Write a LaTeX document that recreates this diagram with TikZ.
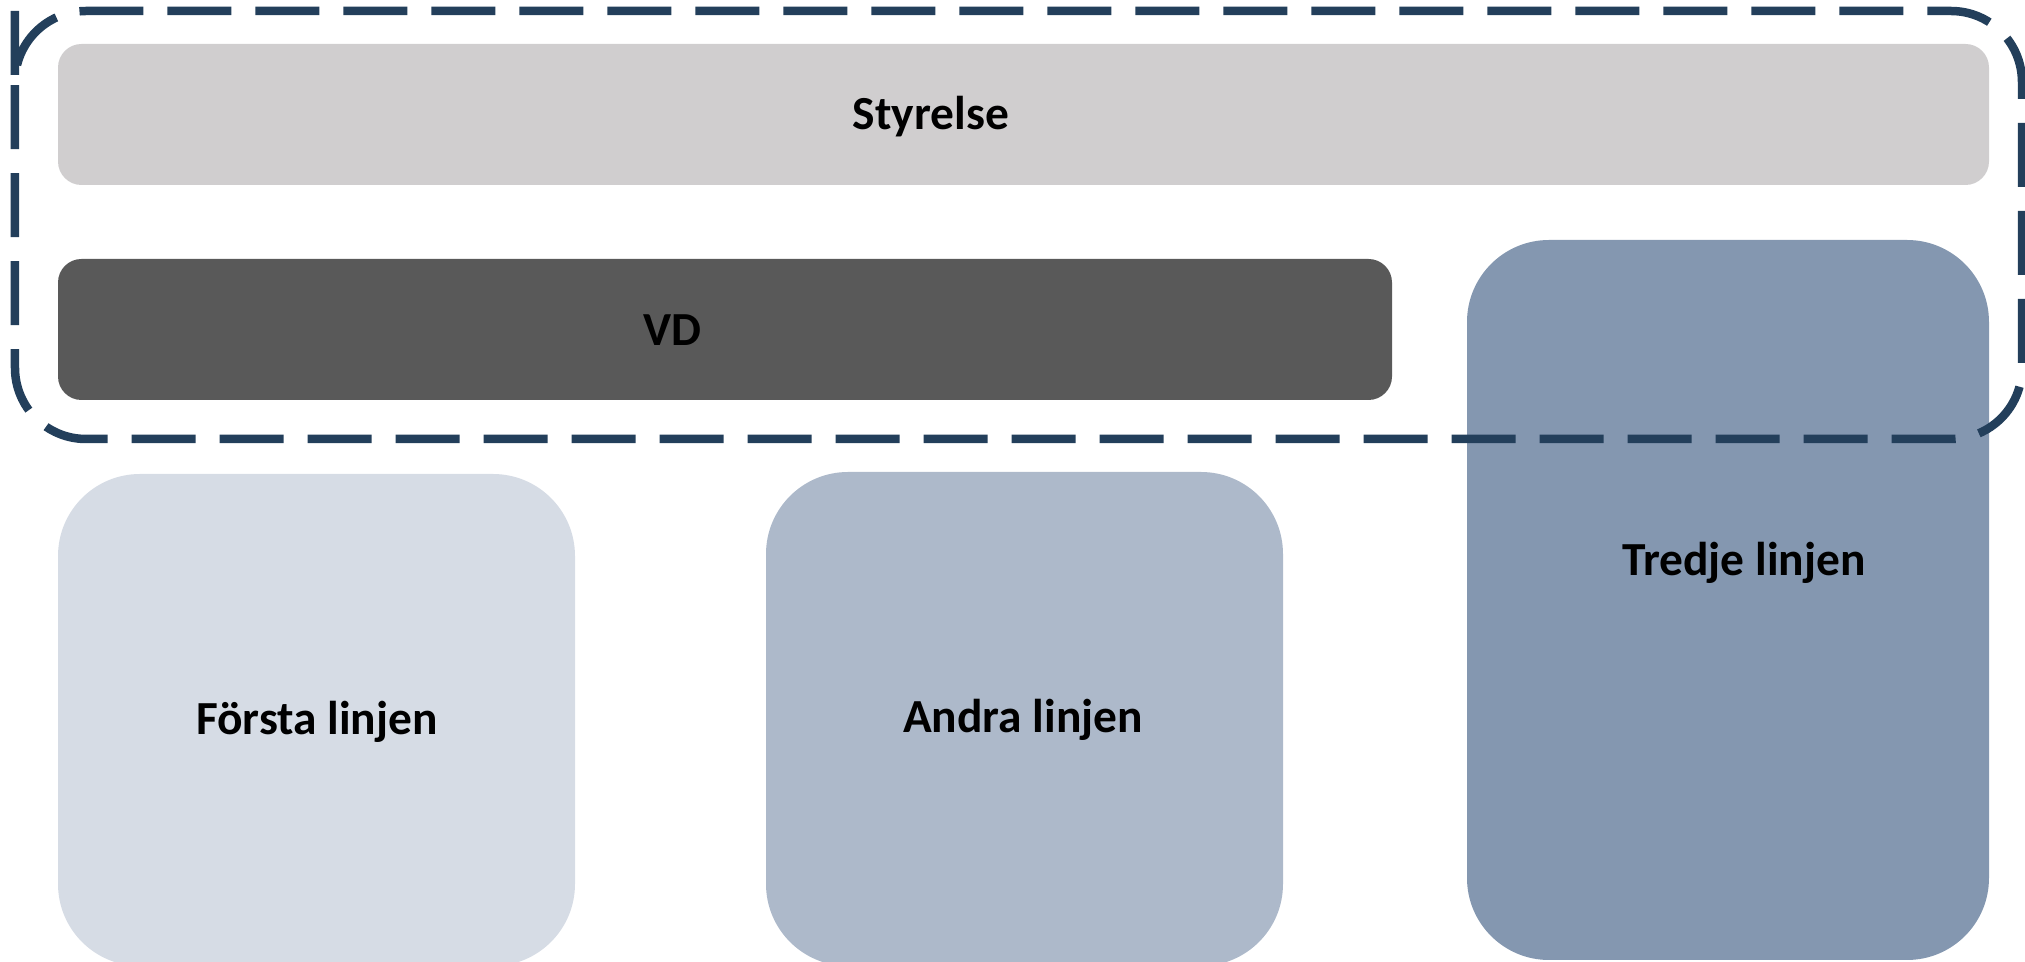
\documentclass[tikz,border=0pt]{standalone}
\usepackage{fontspec}
\setmainfont{Carlito}
\definecolor{boardgray}{HTML}{D0CECF}
\definecolor{ceogray}{HTML}{595959}
\definecolor{lineone}{HTML}{D6DCE5}
\definecolor{linetwo}{HTML}{ADB9CA}
\definecolor{linethree}{HTML}{8497B0}
\definecolor{framenavy}{HTML}{233F5B}
\tikzset{
  boxtext/.style={font=\fontsize{13.5pt}{16pt}\selectfont\bfseries, inner sep=0pt, anchor=base},
  flatbox/.style={rounded corners=0.235cm},
  tallbox/.style={rounded corners=0.82cm},
  govframe/.style={draw=framenavy, line width=0.085cm, dash pattern=on 0.64cm off 0.24cm, rounded corners=0.71cm}
}

\begin{document}
\begin{tikzpicture}
  \useasboundingbox (0,0) rectangle (20.25,-9.62);
  % board and CEO bars
  \fill[boardgray, flatbox] (0.58,-0.44) rectangle (19.89,-1.85);
  \fill[ceogray, flatbox] (0.58,-2.59) rectangle (13.92,-4.00);
  % the three lines
  \fill[lineone, tallbox] (0.58,-4.74) rectangle (5.75,-9.66);
  \fill[linetwo, tallbox] (7.66,-4.72) rectangle (12.83,-9.66);
  \fill[linethree, tallbox] (14.67,-2.40) rectangle (19.89,-9.60);
  % dashed frame goes on top
  \draw[govframe] (0.15,-0.82) -- (0.15,-0.11) -- (20.22,-0.11)
    -- (20.22,-4.39) -- (0.15,-4.39) -- cycle;

  \node[boxtext] (styrelse) at (9.31,-1.30) {Styrelse};
  \node[boxtext] (vd) at (6.72,-3.46) {VD};
  \node[boxtext] (forsta) at (3.17,-7.35) {Första linjen};
  \node[boxtext] (andra) at (10.23,-7.33) {Andra linjen};
  \node[boxtext] (tredje) at (17.44,-5.76) {Tredje linjen};
\end{tikzpicture}
\end{document}
